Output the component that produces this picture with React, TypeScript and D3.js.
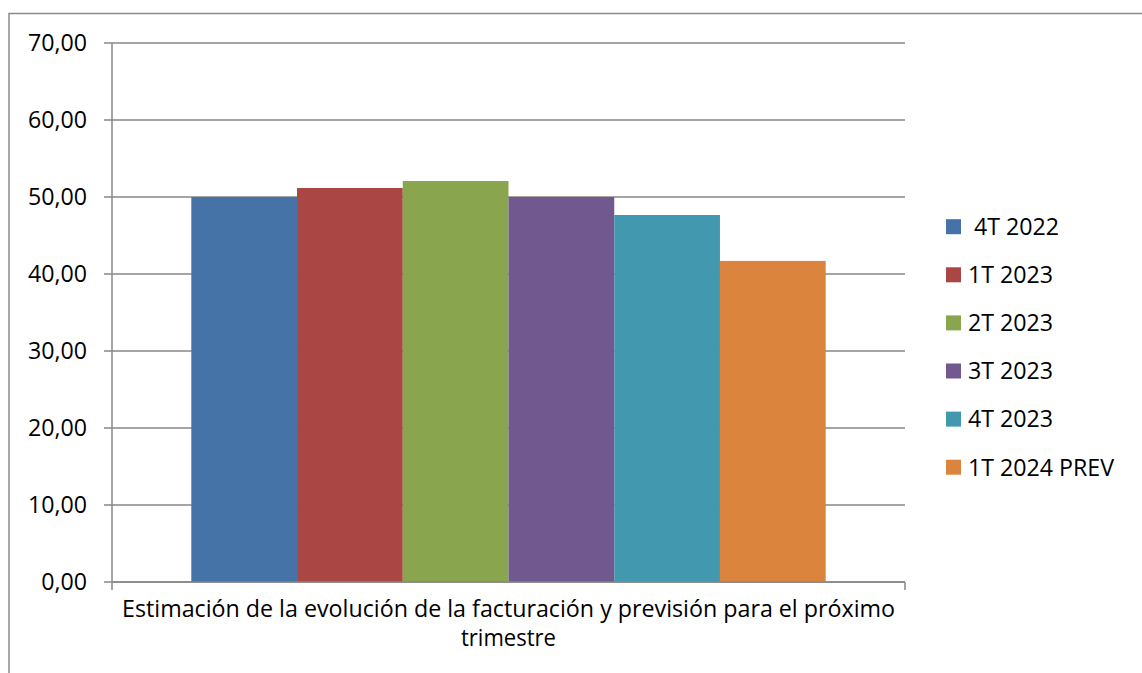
import React from "react";
import * as d3 from "d3";

const seriesNames = [" 4T 2022", "1T 2023", "2T 2023", "3T 2023", "4T 2023", "1T 2024 PREV"];
const seriesValues = [50.0, 51.17, 52.08, 50.0, 47.66, 41.7];
const seriesColors = ["#4572A7", "#AA4643", "#89A54E", "#71588F", "#4198AF", "#DB843D"];
const yTicks = [0, 10, 20, 30, 40, 50, 60, 70];
const categoryLines = [
  "Estimación de la evolución de la facturación y previsión para el próximo",
  "trimestre",
];

const W = 1142;
const H = 673;
const left = 112;
const right = 905;
const top = 43;
const bottom = 582;
const FONT = "'Open Sans', 'Liberation Sans', sans-serif";
const AXIS = "#878787";

export default function App() {
  const y = d3.scaleLinear().domain([0, 70]).range([bottom, top]);
  const x = d3
    .scaleBand<string>()
    .domain(seriesNames)
    .range([left, right])
    .paddingInner(0)
    .paddingOuter(0.75);
  const fmt = (v: number) => v.toFixed(2).replace(".", ",");

  return (
    <svg
      width={W}
      height={H}
      style={{ position: "absolute", left: 0, top: 0, background: "#fff" }}
      fontFamily={FONT}
    >
      <rect x={9} y={13.5} width={1300} height={800} fill="#fff" stroke="#8a8a8a" strokeWidth={1.5} />
      {yTicks.map((t) => (
        <g key={t}>
          <line x1={104} x2={right} y1={y(t)} y2={y(t)} stroke={AXIS} strokeWidth={1.5} />
          <text x={87} y={y(t)} dy="0.36em" textAnchor="end" fontSize={23.2} fill="#000">
            {fmt(t)}
          </text>
        </g>
      ))}
      {seriesNames.map((s, i) => (
        <rect
          key={s}
          x={x(s)!}
          y={y(seriesValues[i])}
          width={x.bandwidth()}
          height={y(0) - y(seriesValues[i])}
          fill={seriesColors[i]}
        />
      ))}
      <line x1={left} x2={left} y1={top} y2={bottom + 8} stroke={AXIS} strokeWidth={1.5} />
      <line x1={left} x2={right} y1={bottom} y2={bottom} stroke={AXIS} strokeWidth={1.5} />
      <line x1={right} x2={right} y1={bottom} y2={bottom + 8} stroke={AXIS} strokeWidth={1.5} />
      <text
        x={(left + right) / 2}
        y={617}
        textAnchor="middle"
        fontSize={23}
        textLength={773}
        lengthAdjust="spacingAndGlyphs"
        fill="#000"
      >
        {categoryLines[0]}
      </text>
      <text
        x={(left + right) / 2}
        y={646}
        textAnchor="middle"
        fontSize={23}
        textLength={95}
        lengthAdjust="spacingAndGlyphs"
        fill="#000"
      >
        {categoryLines[1]}
      </text>
      {seriesNames.map((s, i) => {
        const cy = 226.7 + i * 48.1;
        return (
          <g key={"lg" + s}>
            <rect x={946} y={cy - 7.5} width={15} height={15} fill={seriesColors[i]} />
            <text x={968} y={cy} dy="0.36em" fontSize={23.2} fill="#000" style={{ whiteSpace: "pre" }}>
              {s}
            </text>
          </g>
        );
      })}
    </svg>
  );
}
